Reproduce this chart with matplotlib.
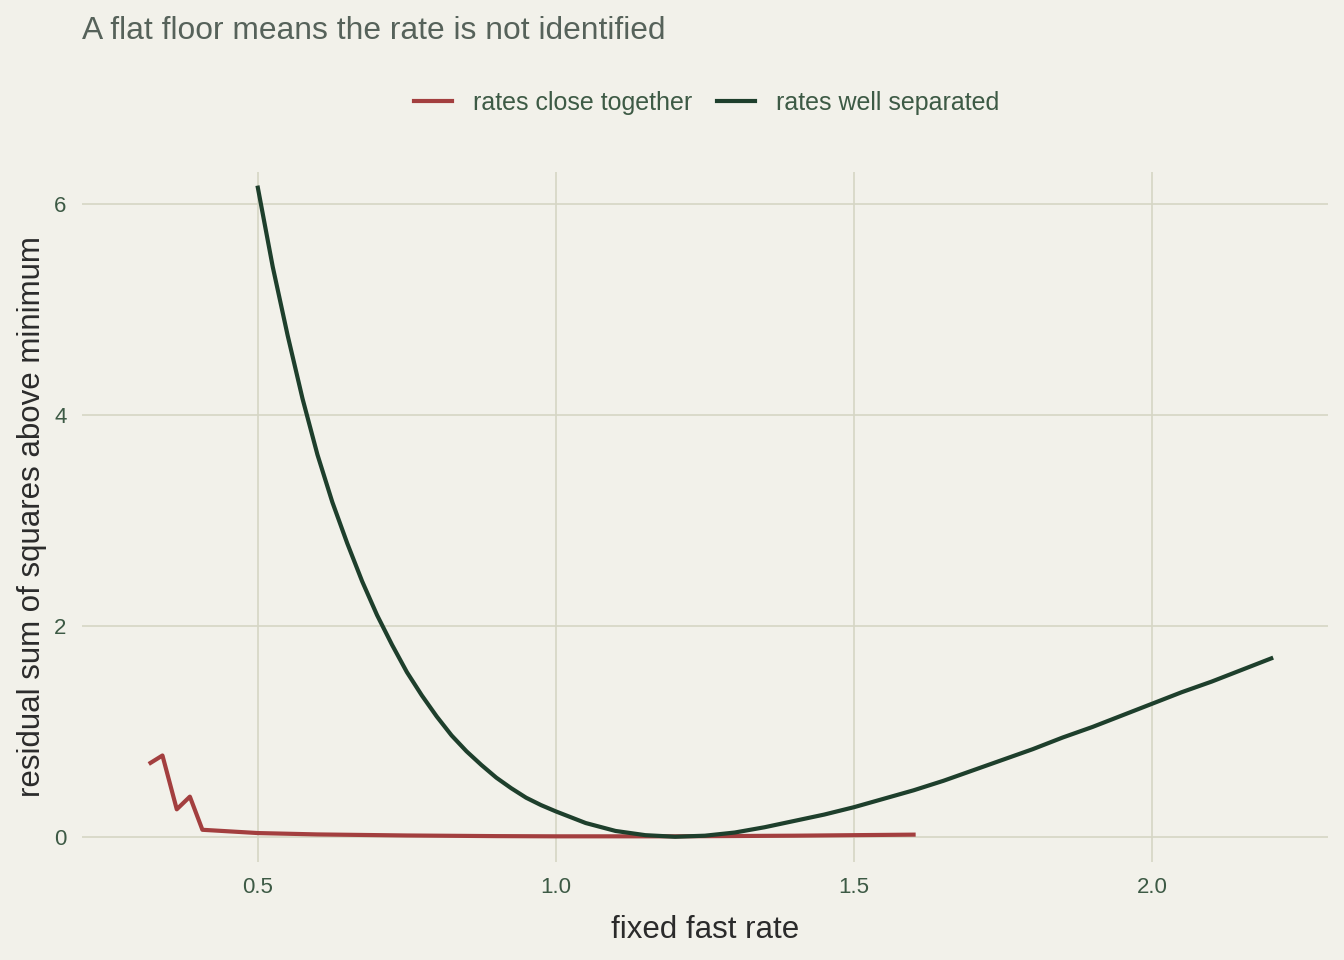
import matplotlib
matplotlib.use("Agg")
import matplotlib.pyplot as plt

# profile of residual SS vs fixed fast rate
close_x = [0.32, 0.34, 0.364, 0.386, 0.407, 0.5, 0.6, 0.75, 0.9, 1.0, 1.2, 1.4, 1.6]
close_y = [0.70, 0.77, 0.26, 0.38, 0.066, 0.035, 0.022, 0.012, 0.006, 0.004, 0.004, 0.01, 0.02]

sep_x = [0.500, 0.525, 0.550, 0.575, 0.600, 0.625, 0.650, 0.675, 0.700, 0.725, 0.750,
         0.775, 0.800, 0.825, 0.850, 0.875, 0.900, 0.925, 0.950, 0.975, 1.000,
         1.05, 1.10, 1.15, 1.20, 1.25, 1.30, 1.35, 1.40, 1.45, 1.50, 1.55, 1.60, 1.65,
         1.70, 1.75, 1.80, 1.85, 1.90, 1.95, 2.00, 2.05, 2.10, 2.15, 2.20]
sep_y = [6.15, 5.40, 4.75, 4.15, 3.62, 3.17, 2.78, 2.42, 2.10, 1.82, 1.56,
         1.34, 1.14, 0.96, 0.81, 0.68, 0.56, 0.46, 0.37, 0.30, 0.24,
         0.13, 0.055, 0.015, 0.0, 0.01, 0.04, 0.09, 0.15, 0.21, 0.28, 0.36, 0.44, 0.53,
         0.63, 0.73, 0.83, 0.94, 1.04, 1.15, 1.26, 1.37, 1.47, 1.58, 1.69]

x_ticks = [0.5, 1.0, 1.5, 2.0]
y_ticks = [0, 2, 4, 6]

bg = "#F2F1EA"
grid_col = "#D6D6C4"
red = "#A33F3F"
green = "#1E3F2C"

plt.rcParams["font.family"] = ["Liberation Sans", "DejaVu Sans"]

fig = plt.figure(figsize=(13.44, 9.6), dpi=100, facecolor=bg)
ax = fig.add_axes([0.061, 0.102, 0.927, 0.719], facecolor=bg)

ax.plot(close_x, close_y, color=red, lw=3, label="rates close together")
ax.plot(sep_x, sep_y, color=green, lw=3, label="rates well separated")

ax.set_xlim(0.205, 2.295)
ax.set_ylim(-0.24, 6.30)
ax.set_xticks(x_ticks)
ax.set_xticklabels(["0.5", "1.0", "1.5", "2.0"])
ax.set_yticks(y_ticks)
ax.grid(True, color=grid_col, lw=1.2)
ax.set_axisbelow(True)
for s in ax.spines.values():
    s.set_visible(False)
ax.tick_params(length=0, labelsize=16, labelcolor="#3D5A45", pad=11)

ax.set_xlabel("fixed fast rate", fontsize=22.5, color="#2B2B2B", labelpad=12)
ax.set_ylabel("residual sum of squares above minimum", fontsize=22.5, color="#2B2B2B", labelpad=5)

fig.text(0.061, 0.968, "A flat floor means the rate is not identified", fontsize=22.9,
         color="#56625A", va="center", ha="left")

fig.legend(loc="center", bbox_to_anchor=(0.526, 0.893), ncol=2, frameon=False,
           fontsize=18, labelcolor="#3D5A45", handlelength=1.5, columnspacing=1.0,
           handletextpad=0.85)

fig.savefig("out.png", dpi=100, facecolor=bg)
